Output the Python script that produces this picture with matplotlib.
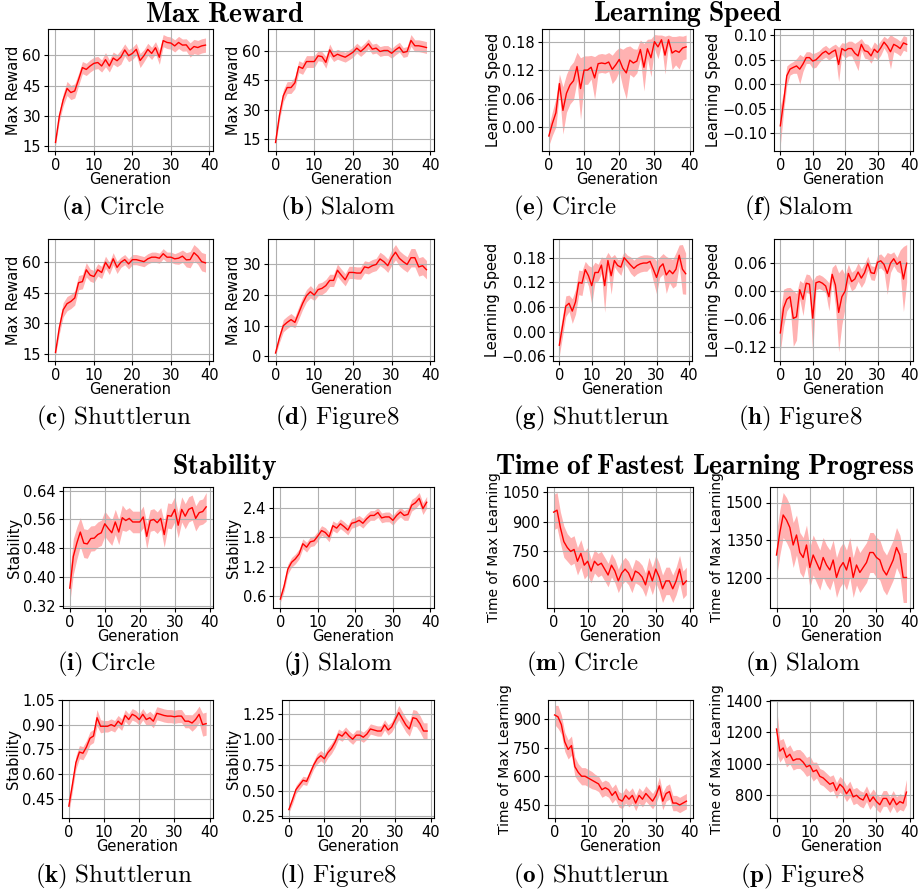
import numpy as np
from matplotlib import pyplot as plt

plt.rcParams['mathtext.fontset'] = 'cm'

gens = np.arange(40)

# ---- Max Reward ----
reward_circle = [17, 30, 38, 43.6, 41.6, 42.4, 48, 53.9, 53, 54.7, 56, 56.4, 54.7, 57.8, 54.7, 58.6, 57.3, 59.1, 62.6, 59.8,
                 60.9, 62.9, 57.4, 59.8, 62.9, 60.9, 63.7, 59, 67.2, 66.3, 66, 64.6, 66.3, 65, 65.1, 62.6, 64.3, 63.8, 64.6, 65]
reward_circle_sd = [1.5, 2.5, 3, 3.5, 3.5, 3.5, 3, 3, 3, 3, 3, 3, 3, 3.5, 3, 3, 3, 3.5, 3, 3,
                    3, 3, 3.5, 3, 3, 3, 3, 3.5, 3, 3, 3, 3, 3, 3, 3, 3.5, 3.5, 3.5, 3.5, 3.5]
reward_slalom = [13.3, 27, 37, 41.2, 41.2, 43.6, 51.8, 50.9, 54.4, 54.4, 54.4, 57.3, 56.9, 54, 60.3, 56.9, 58.1, 57.3, 56.6, 57.8,
                 59.1, 61.2, 59.5, 61.2, 63.4, 60.7, 61.2, 59.5, 60, 60, 58.6, 60.3, 61.7, 59, 59.5, 65.1, 62.4, 62.4, 62, 61.5]
reward_slalom_sd = [1.5, 2.5, 3, 3, 3, 3, 3, 3, 3, 3, 3, 2.5, 2.5, 3, 3, 2.5, 2.5, 2.5, 2.5, 2.5,
                    2.5, 2.5, 2.5, 2.5, 2.5, 2.5, 2.5, 2.5, 2.5, 2.5, 2.5, 2.5, 2.5, 2.5, 2.5, 3, 3, 3, 3, 3]
reward_shuttle = [15.8, 28, 36.7, 39.7, 40.8, 42.5, 50, 50.5, 56.3, 53.7, 53, 56.3, 55, 60, 57, 61.7, 57.5, 60, 61.3, 59.2,
                  61.3, 61.3, 60.8, 60.3, 61.7, 62.5, 62.5, 62, 64.2, 62.5, 62.5, 61.7, 62, 63, 61.2, 61.3, 64.7, 63, 60.3, 59.7]
reward_shuttle_sd = [1.5, 3, 3.5, 3.5, 3.5, 3.5, 3.5, 3.5, 3.5, 3, 3, 3, 3, 3, 3, 3, 3, 2.5, 2.5, 2.5,
                     2.5, 2.5, 2.5, 2.5, 2.5, 2.5, 2.5, 2.5, 2.5, 2.5, 2.5, 2.5, 3, 3, 3.5, 4, 4, 4, 4.5, 4.5]
reward_fig8 = [1.1, 6, 10, 11.1, 12, 11.1, 14.2, 17.3, 19.8, 21.1, 20, 21.8, 22.2, 23.1, 24.8, 24.8, 28.1, 26.5, 25, 27.4,
               27.4, 27.2, 27.2, 29.2, 28.9, 29.6, 30, 31.8, 30.9, 29.6, 32.2, 34, 32, 30.9, 30, 32.2, 32.2, 29.2, 29.6, 28.3]
reward_fig8_sd = [0.8, 1.5, 2, 2, 2, 1.8, 2, 2, 2, 2, 1.8, 2, 2, 2, 2, 2, 2, 2, 2, 2,
                  2, 2, 2, 2, 2, 2, 2, 2.2, 2.2, 2.2, 2.5, 2.5, 2.5, 2.5, 2.5, 3, 3, 3, 3, 3]

# ---- Learning Speed ----
speed_circle = [-0.019, 0.0075, 0.03, 0.0915, 0.035, 0.071, 0.0885, 0.0975, 0.1275, 0.081, 0.12, 0.12, 0.126, 0.1035, 0.1335, 0.135, 0.1335, 0.137, 0.1215, 0.131,
                0.1425, 0.124, 0.114, 0.141, 0.135, 0.139, 0.1635, 0.126, 0.165, 0.146, 0.18, 0.169, 0.184, 0.1515, 0.184, 0.156, 0.161, 0.1575, 0.1665, 0.169]
speed_circle_sd = [0.02, 0.025, 0.03, 0.02, 0.05, 0.04, 0.04, 0.04, 0.03, 0.065, 0.03, 0.03, 0.025, 0.045, 0.02, 0.02, 0.02, 0.02, 0.03, 0.03,
                   0.025, 0.04, 0.055, 0.03, 0.03, 0.025, 0.02, 0.05, 0.02, 0.04, 0.015, 0.025, 0.01, 0.04, 0.01, 0.035, 0.03, 0.035, 0.025, 0.025]
speed_slalom = [-0.085, -0.037, 0.017, 0.0305, 0.034, 0.037, 0.0305, 0.041, 0.054, 0.054, 0.047, 0.0495, 0.056, 0.063, 0.067, 0.061, 0.066, 0.0695, 0.040, 0.0725,
                0.068, 0.0725, 0.0725, 0.063, 0.0575, 0.081, 0.068, 0.066, 0.0575, 0.071, 0.0645, 0.074, 0.0855, 0.0775, 0.066, 0.081, 0.0775, 0.0725, 0.084, 0.081]
speed_slalom_sd = [0.04, 0.02, 0.02, 0.012, 0.012, 0.015, 0.03, 0.015, 0.012, 0.012, 0.015, 0.015, 0.012, 0.012, 0.012, 0.012, 0.012, 0.012, 0.035, 0.012,
                   0.015, 0.015, 0.015, 0.02, 0.03, 0.012, 0.015, 0.015, 0.015, 0.015, 0.015, 0.015, 0.012, 0.015, 0.035, 0.015, 0.015, 0.015, 0.015, 0.015]
speed_shuttle = [-0.033, 0.014, 0.062, 0.069, 0.050, 0.0725, 0.12, 0.118, 0.151, 0.136, 0.112, 0.144, 0.144, 0.162, 0.112, 0.173, 0.136, 0.173, 0.161, 0.157,
                 0.18, 0.171, 0.162, 0.154, 0.161, 0.165, 0.167, 0.167, 0.171, 0.152, 0.132, 0.157, 0.165, 0.138, 0.149, 0.141, 0.152, 0.186, 0.152, 0.141]
speed_shuttle_sd = [0.025, 0.025, 0.025, 0.02, 0.03, 0.03, 0.03, 0.03, 0.02, 0.025, 0.045, 0.025, 0.02, 0.02, 0.065, 0.02, 0.045, 0.015, 0.015, 0.02,
                    0.015, 0.015, 0.02, 0.02, 0.02, 0.02, 0.02, 0.02, 0.015, 0.03, 0.04, 0.025, 0.025, 0.045, 0.03, 0.035, 0.04, 0.025, 0.06, 0.05]
speed_fig8 = [-0.0896, -0.036, -0.0175, -0.012, -0.0585, -0.055, 0.003, -0.0175, 0.017, 0.015, -0.058, 0.018, 0.0205, 0.017, 0.011, -0.012, 0.036, 0.013, -0.0456, -0.012,
              0.0, 0.038, 0.0205, 0.026, 0.041, 0.028, 0.0395, 0.06, 0.0395, 0.038, 0.062, 0.065, 0.0575, 0.038, 0.06, 0.0695, 0.0575, 0.0635, 0.026, 0.06]
speed_fig8_sd = [0.04, 0.04, 0.025, 0.02, 0.06, 0.05, 0.02, 0.035, 0.02, 0.02, 0.08, 0.015, 0.015, 0.015, 0.015, 0.03, 0.015, 0.045, 0.085, 0.06,
                 0.035, 0.02, 0.02, 0.02, 0.02, 0.02, 0.02, 0.015, 0.015, 0.015, 0.015, 0.015, 0.015, 0.045, 0.02, 0.015, 0.015, 0.025, 0.07, 0.04]

# ---- Stability ----
stab_circle = [0.369, 0.457, 0.494, 0.525, 0.494, 0.492, 0.507, 0.508, 0.518, 0.523, 0.548, 0.535, 0.523, 0.553, 0.525, 0.565, 0.557, 0.563, 0.553, 0.553,
               0.553, 0.567, 0.513, 0.557, 0.56, 0.551, 0.563, 0.518, 0.571, 0.569, 0.588, 0.544, 0.588, 0.569, 0.588, 0.593, 0.563, 0.579, 0.582, 0.595]
stab_circle_sd = [0.04, 0.05, 0.045, 0.04, 0.04, 0.04, 0.035, 0.035, 0.035, 0.035, 0.035, 0.035, 0.035, 0.035, 0.035, 0.035, 0.03, 0.03, 0.03, 0.03,
                  0.03, 0.03, 0.035, 0.03, 0.03, 0.03, 0.03, 0.035, 0.035, 0.035, 0.035, 0.035, 0.035, 0.035, 0.035, 0.035, 0.035, 0.035, 0.035, 0.04]
stab_slalom = [0.537, 0.80, 1.15, 1.29, 1.36, 1.46, 1.67, 1.60, 1.71, 1.73, 1.83, 1.94, 1.90, 1.81, 2.04, 1.99, 2.08, 2.02, 1.95, 2.09,
               2.11, 2.15, 2.09, 2.18, 2.25, 2.25, 2.31, 2.20, 2.22, 2.22, 2.15, 2.25, 2.32, 2.25, 2.27, 2.46, 2.51, 2.60, 2.39, 2.52]
stab_slalom_sd = [0.07, 0.1, 0.1, 0.1, 0.1, 0.1, 0.1, 0.1, 0.1, 0.1, 0.1, 0.1, 0.1, 0.1, 0.1, 0.1, 0.1, 0.1, 0.1, 0.1,
                  0.1, 0.1, 0.1, 0.1, 0.1, 0.1, 0.1, 0.1, 0.1, 0.1, 0.1, 0.1, 0.1, 0.1, 0.12, 0.12, 0.12, 0.12, 0.12, 0.12]
stab_shuttle = [0.404, 0.534, 0.669, 0.733, 0.726, 0.764, 0.817, 0.831, 0.942, 0.89, 0.89, 0.89, 0.90, 0.89, 0.921, 0.90, 0.956, 0.931, 0.963, 0.952,
                0.931, 0.963, 0.931, 0.942, 0.921, 0.969, 0.963, 0.956, 0.952, 0.952, 0.948, 0.952, 0.952, 0.921, 0.921, 0.91, 0.931, 0.963, 0.90, 0.906]
stab_shuttle_sd = [0.04, 0.04, 0.04, 0.04, 0.04, 0.04, 0.04, 0.04, 0.05, 0.04, 0.035, 0.035, 0.035, 0.035, 0.035, 0.035, 0.035, 0.035, 0.035, 0.035,
                   0.035, 0.035, 0.035, 0.04, 0.04, 0.04, 0.04, 0.04, 0.04, 0.04, 0.04, 0.04, 0.04, 0.04, 0.04, 0.05, 0.05, 0.05, 0.07, 0.07]
stab_fig8 = [0.315, 0.41, 0.51, 0.556, 0.60, 0.59, 0.67, 0.75, 0.81, 0.84, 0.81, 0.87, 0.91, 0.97, 1.05, 1.03, 1.07, 1.03, 1.00, 1.04,
             1.04, 1.02, 1.05, 1.10, 1.09, 1.08, 1.08, 1.14, 1.09, 1.12, 1.19, 1.26, 1.20, 1.14, 1.10, 1.21, 1.20, 1.15, 1.08, 1.08]
stab_fig8_sd = [0.03, 0.04, 0.04, 0.04, 0.04, 0.04, 0.04, 0.04, 0.05, 0.05, 0.05, 0.05, 0.05, 0.05, 0.05, 0.05, 0.05, 0.05, 0.05, 0.05,
                0.05, 0.05, 0.05, 0.05, 0.05, 0.05, 0.05, 0.05, 0.05, 0.05, 0.06, 0.07, 0.07, 0.07, 0.07, 0.08, 0.08, 0.08, 0.08, 0.08]

# ---- Time of Fastest Learning Progress ----
time_circle = [950, 960, 870, 800, 770, 750, 760, 700, 740, 680, 700, 650, 700, 680, 690, 660, 630, 680, 650, 600,
               640, 660, 640, 600, 650, 640, 620, 580, 650, 600, 660, 620, 560, 600, 600, 560, 600, 660, 580, 600]
time_circle_sd = [90, 90, 80, 80, 70, 70, 70, 70, 70, 70, 70, 60, 60, 60, 60, 60, 60, 60, 60, 60,
                  60, 60, 60, 60, 60, 60, 60, 60, 70, 70, 70, 70, 70, 70, 70, 70, 70, 70, 70, 70]
time_slalom = [1290, 1380, 1450, 1430, 1400, 1330, 1370, 1300, 1280, 1330, 1240, 1290, 1260, 1230, 1280, 1250, 1230, 1270, 1200, 1240,
               1260, 1230, 1280, 1200, 1250, 1220, 1240, 1260, 1300, 1300, 1280, 1270, 1230, 1210, 1240, 1270, 1320, 1290, 1200, 1200]
time_slalom_sd = [90, 90, 90, 90, 90, 90, 80, 80, 80, 80, 80, 80, 80, 80, 80, 80, 80, 80, 80, 80,
                  80, 80, 80, 80, 80, 80, 80, 80, 80, 80, 80, 80, 80, 80, 80, 80, 80, 80, 100, 100]
time_shuttle = [920, 910, 870, 780, 740, 760, 650, 620, 600, 600, 590, 580, 570, 560, 530, 540, 530, 500, 520, 480,
                470, 500, 480, 500, 460, 500, 480, 510, 490, 470, 500, 550, 470, 510, 520, 460, 460, 450, 460, 470]
time_shuttle_sd = [50, 60, 50, 50, 50, 50, 50, 45, 45, 45, 45, 45, 40, 40, 40, 40, 40, 40, 40, 40,
                   40, 40, 40, 40, 40, 40, 40, 40, 40, 40, 40, 45, 45, 40, 40, 40, 40, 40, 40, 40]
time_fig8 = [1220, 1080, 1100, 1040, 1060, 1020, 1030, 1030, 1010, 980, 990, 950, 960, 920, 910, 890, 870, 880, 830, 870,
             850, 810, 840, 790, 800, 780, 770, 810, 760, 790, 760, 740, 780, 780, 740, 780, 740, 760, 750, 820]
time_fig8_sd = [150, 70, 60, 60, 60, 60, 60, 60, 60, 60, 60, 60, 50, 50, 50, 50, 50, 50, 50, 50,
                50, 50, 50, 50, 50, 50, 50, 50, 50, 50, 50, 50, 50, 50, 50, 50, 50, 50, 50, 80]

W, H = 920, 892
fig = plt.figure(figsize=(W / 100, H / 100), dpi=100)


def rect(x0, y0, x1, y1):
    return [x0 / W, 1 - y1 / H, (x1 - x0) / W, (y1 - y0) / H]


def panel(box, mean, sd, ylabel, yticks, caption, cap_xy, ylabel_size=10.5):
    ax = fig.add_axes(rect(*box))
    mean = np.array(mean)
    sd = np.array(sd)
    ax.fill_between(gens, mean - sd, mean + sd, color='red', alpha=0.3, linewidth=0)
    ax.plot(gens, mean, color='red', linewidth=1)
    ax.set_xticks([0, 10, 20, 30, 40])
    ax.set_yticks(yticks)
    ax.tick_params(labelsize=10.5, length=3, pad=2)
    ax.grid(True)
    ax.set_xlabel('Generation', fontsize=10.5, labelpad=-1)
    ax.set_ylabel(ylabel, fontsize=ylabel_size, labelpad=1)
    fig.text(cap_xy[0] / W, 1 - cap_xy[1] / H, caption, ha='center', va='center', fontsize=18)
    return ax


# Max Reward
panel((48, 29, 213, 151), reward_circle, reward_circle_sd, 'Max Reward', [15, 30, 45, 60],
      r'$\mathbf{(a)}\ \mathrm{Circle}$', (113, 208))
panel((268, 29, 434, 151), reward_slalom, reward_slalom_sd, 'Max Reward', [15, 30, 45, 60],
      r'$\mathbf{(b)}\ \mathrm{Slalom}$', (338, 208))
panel((48, 239, 213, 361), reward_shuttle, reward_shuttle_sd, 'Max Reward', [15, 30, 45, 60],
      r'$\mathbf{(c)}\ \mathrm{Shuttlerun}$', (114, 418))
panel((268, 239, 434, 361), reward_fig8, reward_fig8_sd, 'Max Reward', [0, 10, 20, 30],
      r'$\mathbf{(d)}\ \mathrm{Figure8}$', (337, 418))

# Learning Speed
panel((542, 29, 693, 151), speed_circle, speed_circle_sd, 'Learning Speed', [0, 0.06, 0.12, 0.18],
      r'$\mathbf{(e)}\ \mathrm{Circle}$', (565, 208))
panel((774, 29, 913, 151), speed_slalom, speed_slalom_sd, 'Learning Speed', [-0.1, -0.05, 0, 0.05, 0.1],
      r'$\mathbf{(f)}\ \mathrm{Slalom}$', (799, 208))
panel((553, 239, 692, 361), speed_shuttle, speed_shuttle_sd, 'Learning Speed', [-0.06, 0, 0.06, 0.12, 0.18],
      r'$\mathbf{(g)}\ \mathrm{Shuttlerun}$', (592, 418))
panel((774, 239, 913, 361), speed_fig8, speed_fig8_sd, 'Learning Speed', [-0.12, -0.06, 0, 0.06],
      r'$\mathbf{(h)}\ \mathrm{Figure8}$', (800, 418))

# Stability
panel((63, 487, 213, 608), stab_circle, stab_circle_sd, 'Stability', [0.32, 0.40, 0.48, 0.56, 0.64],
      r'$\mathbf{(i)}\ \mathrm{Circle}$', (106, 664))
panel((273, 487, 434, 608), stab_slalom, stab_slalom_sd, 'Stability', [0.6, 1.2, 1.8, 2.4],
      r'$\mathbf{(j)}\ \mathrm{Slalom}$', (338, 664))
panel((62, 700, 213, 818), stab_shuttle, stab_shuttle_sd, 'Stability', [0.45, 0.60, 0.75, 0.90, 1.05],
      r'$\mathbf{(k)}\ \mathrm{Shuttlerun}$', (114, 876))
panel((282, 700, 434, 818), stab_fig8, stab_fig8_sd, 'Stability', [0.25, 0.50, 0.75, 1.00, 1.25],
      r'$\mathbf{(l)}\ \mathrm{Figure8}$', (338, 876))

# Time of fastest learning progress
panel((547, 487, 693, 608), time_circle, time_circle_sd, 'Time of Max Learning', [600, 750, 900, 1050],
      r'$\mathbf{(m)}\ \mathrm{Circle}$', (582, 664), ylabel_size=10)
panel((770, 487, 913, 608), time_slalom, time_slalom_sd, 'Time of Max Learning', [1200, 1350, 1500],
      r'$\mathbf{(n)}\ \mathrm{Slalom}$', (803, 664), ylabel_size=10)
panel((548, 700, 693, 818), time_shuttle, time_shuttle_sd, 'Time of Max Learning', [450, 600, 750, 900],
      r'$\mathbf{(o)}\ \mathrm{Shuttlerun}$', (592, 876), ylabel_size=10)
panel((770, 700, 913, 818), time_fig8, time_fig8_sd, 'Time of Max Learning', [800, 1000, 1200, 1400],
      r'$\mathbf{(p)}\ \mathrm{Figure8}$', (802, 876), ylabel_size=10)

# group titles
fig.text(225 / W, 1 - 14 / H, r'$\mathbf{Max\ Reward}$', ha='center', va='center', fontsize=20)
fig.text(688 / W, 1 - 14 / H, r'$\mathbf{Learning\ Speed}$', ha='center', va='center', fontsize=20)
fig.text(225 / W, 1 - 467 / H, r'$\mathbf{Stability}$', ha='center', va='center', fontsize=20)
fig.text(705 / W, 1 - 467 / H, r'$\mathbf{Time\ of\ Fastest\ Learning\ Progress}$', ha='center', va='center', fontsize=20)

fig.savefig('out.png', dpi=100)
